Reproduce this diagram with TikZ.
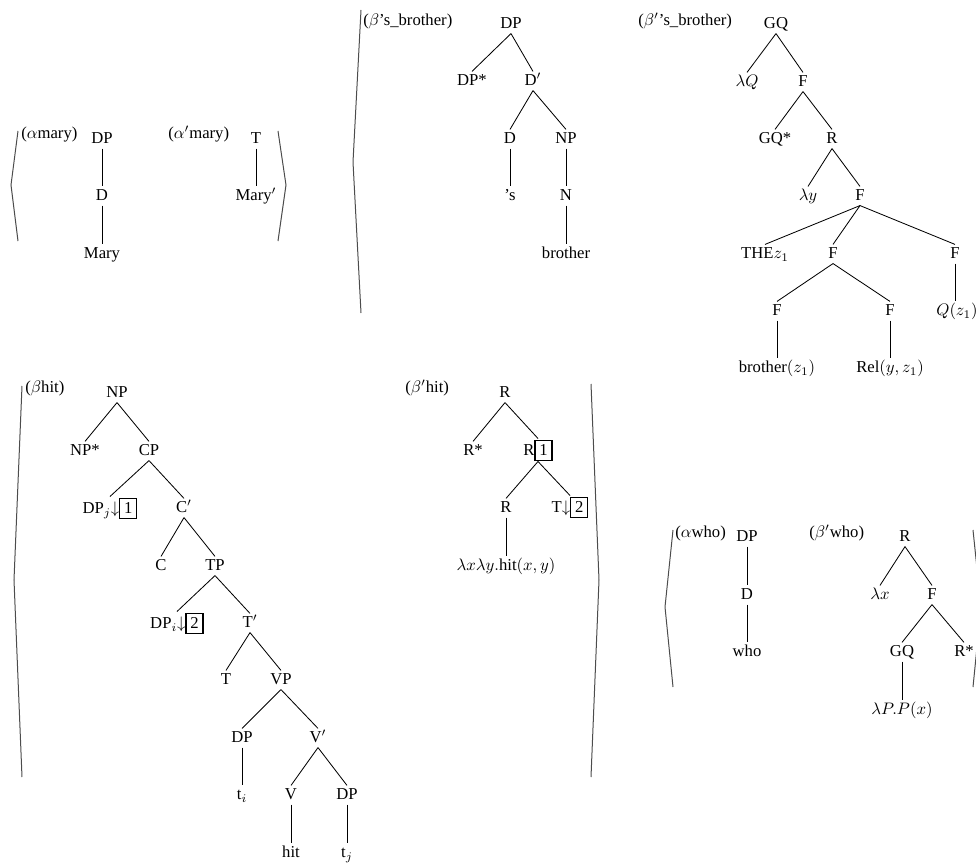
\documentclass[tikz,border=0pt]{standalone}
\usepackage[no-math]{fontspec}
\setmainfont{Liberation Serif}
\newcommand{\boxnum}[1]{{\setlength{\fboxsep}{2.2pt}\setlength{\fboxrule}{0.8pt}\fbox{#1}}}
\tikzset{
  tn/.style={inner sep=0pt, outer sep=1.5pt, text height=7pt, text depth=1.5pt, font=\fontsize{10}{12}\selectfont},
  tb/.style={inner sep=0pt, outer sep=0.4pt, text height=10pt, text depth=3pt, font=\fontsize{10}{12}\selectfont},
  lbl/.style={anchor=west, inner sep=0pt, text height=7pt, text depth=2pt, font=\fontsize{10}{12}\selectfont},
  br/.style={line width=0.5pt, black},
  ang/.style={draw=black!70, line width=0.6pt},
}
\begin{document}
\begin{tikzpicture}[x=0.6pt, y=-0.6pt]
\useasboundingbox (0,0) rectangle (976,863);
\clip (0,0) rectangle (976,863);

% ---------- alpha mary / alpha' mary ----------
\draw[ang] (18,131) -- (11,185) -- (18,241);
\node[lbl] (lamary) at (21,134) {($\alpha$mary)};
\node[tn] (m1) at (102,139) {DP};
\node[tn] (m2) at (102,196) {D};
\node[tn] (m3) at (102,254) {Mary};
\draw[br] (m1.south) -- (m2.north);
\draw[br] (m2.south) -- (m3.north);
\node[lbl] (lamaryp) at (168,134) {($\alpha'$mary)};
\node[tn] (n1) at (256,139) {T};
\node[tn] (n2) at (256,196) {Mary$'$};
\draw[br] (n1.south) -- (n2.north);
\draw[ang] (278,131) -- (286,185) -- (278,241);

% ---------- beta 's brother ----------
\draw[ang] (361,10) -- (353,162) -- (361,313);
\node[lbl] (lbrother) at (363,21) {($\beta$'s\_brother)};
\node[tn] (b1) at (511,24) {DP};
\node[tn] (b2) at (472,81) {DP*};
\node[tn] (b3) at (533,81) {D$'$};
\node[tn] (b4) at (510,139) {D};
\node[tn] (b5) at (566,139) {NP};
\node[tn] (b6) at (510,196) {'s};
\node[tn] (b7) at (566,196) {N};
\node[tn] (b8) at (566,254) {brother};
\draw[br] (b1.south) -- (b2.north);
\draw[br] (b1.south) -- (b3.north);
\draw[br] (b3.south) -- (b4.north);
\draw[br] (b3.south) -- (b5.north);
\draw[br] (b4.south) -- (b6.north);
\draw[br] (b5.south) -- (b7.north);
\draw[br] (b7.south) -- (b8.north);

% ---------- beta' 's brother ----------
\node[lbl] (lbrotherp) at (638,21) {($\beta'$'s\_brother)};
\node[tn] (g1) at (776,24) {GQ};
\node[tn] (g2) at (747,82) {$\lambda Q$};
\node[tn] (g3) at (803,82) {F};
\node[tn] (g4) at (775,139) {GQ*};
\node[tn] (g5) at (832,139) {R};
\node[tn] (g6) at (808,196) {$\lambda y$};
\node[tn] (g7) at (860,196) {F};
\node[tn] (g8) at (765,254) {THE$z_1$};
\node[tn] (g9) at (833,254) {F};
\node[tn] (g10) at (955,254) {F};
\node[tn] (g11) at (777,311) {F};
\node[tn] (g12) at (890,311) {F};
\node[tn] (g13) at (957,311) {$Q(z_1)$};
\node[tn] (g14) at (777,368) {brother$(z_1)$};
\node[tn] (g15) at (890,368) {Rel$(y,z_1)$};
\draw[br] (g1.south) -- (g2.north);
\draw[br] (g1.south) -- (g3.north);
\draw[br] (g3.south) -- (g4.north);
\draw[br] (g3.south) -- (g5.north);
\draw[br] (g5.south) -- (g6.north);
\draw[br] (g5.south) -- (g7.north);
\draw[br] (g7.south) -- (g8.north);
\draw[br] (g7.south) -- (g9.north);
\draw[br] (g7.south) -- (g10.north);
\draw[br] (g9.south) -- (g11.north);
\draw[br] (g9.south) -- (g12.north);
\draw[br] (g10.south) -- (g10.south |- g13.north);
\draw[br] (g11.south) -- (g14.north);
\draw[br] (g12.south) -- (g15.north);

% ---------- beta hit ----------
\draw[ang] (22,386) -- (14,580) -- (22,777);
\node[lbl] (lhit) at (25,388) {($\beta$hit)};
\node[tn] (h1) at (117,393) {NP};
\node[tn] (h2) at (85,451) {NP*};
\node[tn] (h3) at (149,451) {CP};
\node[tb] (h4) at (110,508) {DP$_j{\downarrow}$\boxnum{1}};
\node[tn] (h5) at (184,508) {C$'$};
\node[tn] (h6) at (161,566) {C};
\node[tn] (h7) at (215,566) {TP};
\node[tb] (h8) at (177,623) {DP$_i{\downarrow}$\boxnum{2}};
\node[tn] (h9) at (250,623) {T$'$};
\node[tn] (h10) at (226,680) {T};
\node[tn] (h11) at (281,680) {VP};
\node[tn] (h12) at (242,738) {DP};
\node[tn] (h13) at (318,738) {V$'$};
\node[tn] (h14) at (242,795) {t$_i$};
\node[tn] (h15) at (291,795) {V};
\node[tn] (h16) at (347,795) {DP};
\node[tn] (h17) at (291,853) {hit};
\node[tn] (h18) at (347,853) {t$_j$};
\draw[br] (h1.south) -- (h2.north);
\draw[br] (h1.south) -- (h3.north);
\draw[br] (h3.south) -- (h4.north);
\draw[br] (h3.south) -- (h5.north);
\draw[br] (h5.south) -- (h6.north);
\draw[br] (h5.south) -- (h7.north);
\draw[br] (h7.south) -- (h8.north);
\draw[br] (h7.south) -- (h9.north);
\draw[br] (h9.south) -- (h10.north);
\draw[br] (h9.south) -- (h11.north);
\draw[br] (h11.south) -- (h12.north);
\draw[br] (h11.south) -- (h13.north);
\draw[br] (h12.south) -- (h14.north);
\draw[br] (h13.south) -- (h15.north);
\draw[br] (h13.south) -- (h16.north);
\draw[br] (h15.south) -- (h17.north);
\draw[br] (h16.south) -- (h18.north);

% ---------- beta' hit ----------
\node[lbl] (lhitp) at (405,388) {($\beta'$hit)};
\node[tn] (r1) at (505,393) {R};
\node[tn] (r2) at (473,451) {R*};
\node[tb] (r3) at (538,450) {R\boxnum{1}};
\node[tn] (r4) at (506,508) {R};
\node[tb] (r5) at (570,507) {T${\downarrow}$\boxnum{2}};
\node[tn] (r6) at (506,566) {$\lambda x\lambda y.$hit$(x,y)$};
\draw[br] (r1.south) -- (r2.north);
\draw[br] (r1.south) -- (r3.north);
\draw[br] (r3.south) -- (r4.north);
\draw[br] (r3.south) -- (r5.north);
\draw[br] (r4.south) -- (r6.north);
\draw[ang] (591,384) -- (599,580) -- (591,777);

% ---------- alpha who / beta' who ----------
\draw[ang] (673,530) -- (665,607) -- (673,687);
\node[lbl] (lwho) at (675,533) {($\alpha$who)};
\node[tn] (w1) at (747,537) {DP};
\node[tn] (w2) at (747,595) {D};
\node[tn] (w3) at (747,652) {who};
\draw[br] (w1.south) -- (w2.north);
\draw[br] (w2.south) -- (w3.north);
\node[lbl] (lwhop) at (809,533) {($\beta'$who)};
\node[tn] (v1) at (905,537) {R};
\node[tn] (v2) at (880,595) {$\lambda x$};
\node[tn] (v3) at (932,595) {F};
\node[tn] (v4) at (902,652) {GQ};
\node[tn] (v5) at (964,652) {R*};
\node[tn] (v6) at (902,710) {$\lambda P.P(x)$};
\draw[br] (v1.south) -- (v2.north);
\draw[br] (v1.south) -- (v3.north);
\draw[br] (v3.south) -- (v4.north);
\draw[br] (v3.south) -- (v5.north);
\draw[br] (v4.south) -- (v6.north);
\draw[ang] (973,530) -- (981,607) -- (973,687);
\end{tikzpicture}
\end{document}
